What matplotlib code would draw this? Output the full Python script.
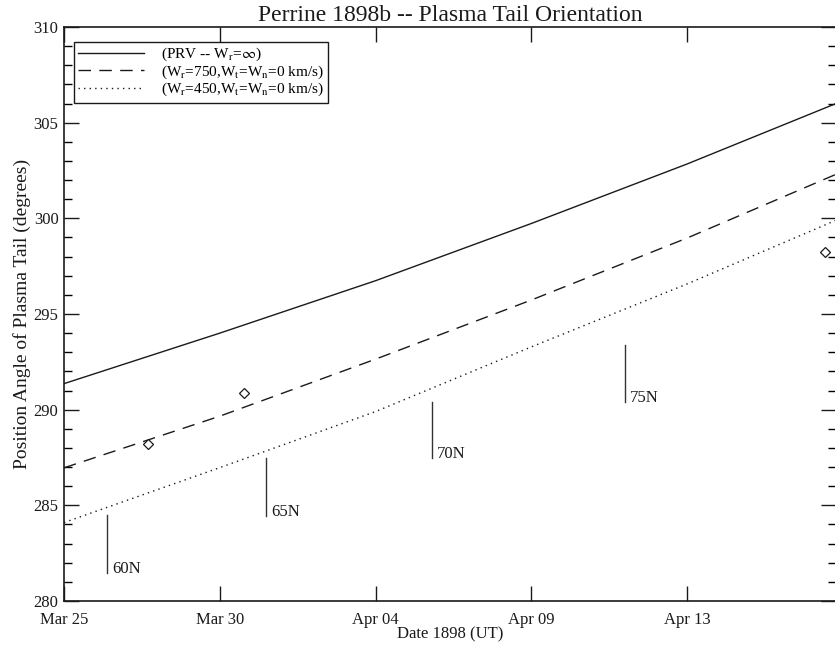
import matplotlib.pyplot as plt

# 数据：横轴为 1898 Mar 25 起算的天数
days = [0, 5, 10, 15, 20, 24.78]
prv = [291.36, 294.0, 296.74, 299.73, 302.84, 306.0]
w750 = [286.96, 289.66, 292.64, 295.73, 298.97, 302.3]
w450 = [284.1, 286.97, 289.9, 293.28, 296.57, 299.9]

obs_days = [2.7, 5.78, 24.43]
obs_pa = [288.2, 290.87, 298.24]

lat_days = [1.38, 6.47, 11.8, 18.0]
lat_top = [284.5, 287.47, 290.4, 293.38]
lat_bottom = [281.46, 284.44, 287.47, 290.4]
lat_labels = ['60N', '65N', '70N', '75N']

tick_days = [0, 5, 10, 15, 20]
tick_labels = ['Mar 25', 'Mar 30', 'Apr 04', 'Apr 09', 'Apr 13']

plt.rcParams['font.family'] = ['Liberation Serif', 'DejaVu Serif']
plt.rcParams['mathtext.fontset'] = 'stix'

fig = plt.figure(figsize=(8.35, 6.48), dpi=100)
ax = fig.add_axes([64 / 835, 47 / 648, 772 / 835, 574 / 648])

c = '#1a1a1a'
ax.plot(days, prv, '-', color=c, lw=1.0, label=r'(PRV -- W$_\mathrm{r}$=$\infty$)')
ax.plot(days, w750, color=c, lw=1.0, dashes=(9, 6),
        label=r'(W$_\mathrm{r}$=750,W$_\mathrm{t}$=W$_\mathrm{n}$=0 km/s)')
ax.plot(days, w450, color=c, lw=1.0, dashes=(1, 3),
        label=r'(W$_\mathrm{r}$=450,W$_\mathrm{t}$=W$_\mathrm{n}$=0 km/s)')
ax.plot(obs_days, obs_pa, 'D', ms=5.5, mfc='white', mec=c, mew=0.9, clip_on=False)

# 纬度标记
for d, yt, yb, lab in zip(lat_days, lat_top, lat_bottom, lat_labels):
    ax.plot([d, d], [yb, yt], '-', color='#333333', lw=1.0)
    ax.annotate(lab, (d, yb), xytext=(4, 0), textcoords='offset points',
                ha='left', va='baseline', fontsize=12, color=c)

ax.set_xlim(0, 24.78)
ax.set_ylim(280, 310)
ax.set_xticks(tick_days)
ax.set_xticklabels(tick_labels)
ax.set_yticks(range(280, 311, 5))
ax.set_yticks(range(280, 311, 1), minor=True)

ax.tick_params(axis='both', which='major', direction='in', length=11, width=1,
               top=True, right=True, labelsize=12, colors=c)
ax.tick_params(axis='y', which='minor', direction='in', length=5.5, width=1,
               left=True, right=True)
ax.tick_params(axis='x', which='major', pad=8)
ax.tick_params(axis='y', which='major', pad=4)
for s in ax.spines.values():
    s.set_linewidth(1.2)
    s.set_color(c)

ax.set_title('Perrine 1898b -- Plasma Tail Orientation', fontsize=17, pad=4, color=c)
ax.set_xlabel('Date 1898 (UT)', fontsize=12, labelpad=-1, color=c)
ax.set_ylabel('Position Angle of Plasma Tail (degrees)', fontsize=14, labelpad=2, color=c)

leg = ax.legend(loc='upper left', bbox_to_anchor=(0.0085, 0.98), fontsize=11,
                handlelength=4.3, handletextpad=1.1, labelspacing=0.0,
                borderpad=0.3, borderaxespad=0.2, fancybox=False, framealpha=1,
                edgecolor=c)
leg.get_frame().set_linewidth(1.0)

fig.savefig('out.png', dpi=100)
